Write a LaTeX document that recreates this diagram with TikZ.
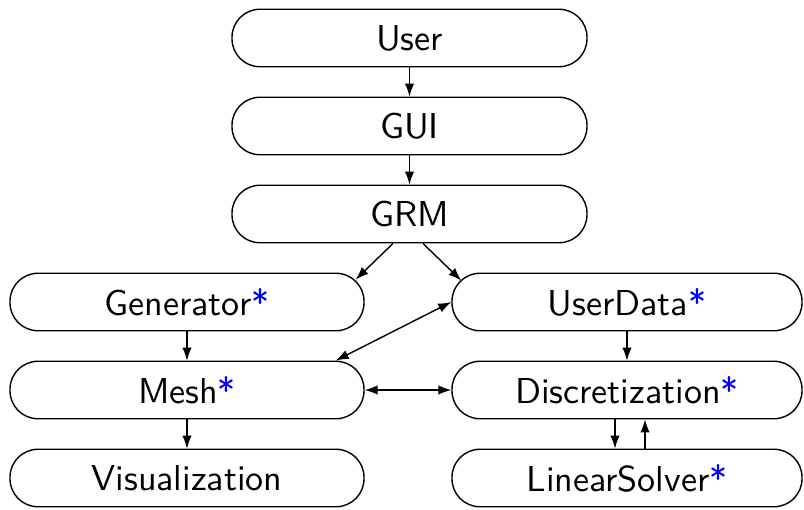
\documentclass[tikz,border=0pt]{standalone}
\usepackage{xcolor}
\usepackage{fontspec}
\usetikzlibrary{arrows.meta}

% the 10pt design of the sans, scaled up
\newfontfamily\boxfont{lmsans10-regular.otf}
% blue star for the user-extensible parts
\newcommand{\ext}{\textcolor{blue}{*}}

\begin{document}
\begin{tikzpicture}[node distance=1.76cm,
        >={Latex[length=2.6mm,width=1.9mm]}, line width=0.8pt,
        module/.style={draw, rectangle, rounded corners=0.56cm, minimum height=1.15cm,
            inner sep=0pt, font=\boxfont\fontsize{20.5}{24}\selectfont}]
            \useasboundingbox (-8.19,0.76) rectangle (7.89,-9.42);

            % main column
            \node[module, minimum width=7.1cm] (user) {User};
            \node[module, minimum width=7.1cm, below of=user] (gui) {GUI};
            \node[module, minimum width=7.1cm, below of=gui] (grm) {GRM};

            % left and right columns
            \node[module, minimum width=7.08cm] (generator) at (-4.45,-5.28) {Generator\ext};
            \node[module, minimum width=7.08cm, below of=generator] (mesh) {Mesh\ext};
            \node[module, minimum width=7.08cm, below of=mesh] (visualization) {Visualization};
            \node[module, minimum width=7cm] (userdata) at (4.35,-5.28) {UserData\ext};
            \node[module, minimum width=7cm, below of=userdata] (discretization) {Discretization\ext};
            \node[module, minimum width=7cm, below of=discretization] (linearsolver) {LinearSolver\ext};

            \draw[->] (user) -- (gui);
            \draw[->] (gui) -- (grm);
            \draw[->] ([xshift=-0.33cm]grm.south) -- ([xshift=-0.18cm,yshift=-0.14cm]generator.north east);
            \draw[->] ([xshift=0.27cm]grm.south) -- ([xshift=0.2cm,yshift=-0.16cm]userdata.north west);
            \draw[<->] (userdata.west) -- ([xshift=-0.58cm]mesh.north east);
            \draw[<->] (mesh) -- (discretization);
            \draw[->] (generator) -- (mesh);
            \draw[->] (mesh) -- (visualization);
            \draw[->] (userdata) -- (discretization);
            \draw[->] ([xshift=-0.24cm]discretization.south) -- ([xshift=-0.24cm]linearsolver.north);
            \draw[->] ([xshift=0.36cm]linearsolver.north) -- ([xshift=0.36cm]discretization.south);
        \end{tikzpicture}
\end{document}
